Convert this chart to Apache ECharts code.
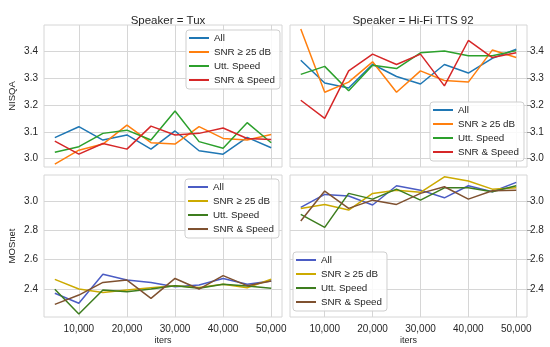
<!DOCTYPE html>
<html><head><meta charset="utf-8">
<script src="https://cdn.jsdelivr.net/npm/echarts@6/dist/echarts.min.js"></script>
<style>html,body{margin:0;padding:0;background:#fff}#c{width:550px;height:347px}</style>
</head><body><div id="c"></div>
<script>
// ---- data ----
const iters = [5000, 10000, 15000, 20000, 25000, 30000, 35000, 40000, 45000, 50000];
const variantNames = ['All', 'SNR ≥ 25 dB', 'Utt. Speed', 'SNR & Speed'];
const panelTitles = ['Speaker = Tux', 'Speaker = Hi-Fi TTS 92'];
const metricNames = ['NISQA', 'MOSnet'];
const xTicks = [10000, 20000, 30000, 40000, 50000];
const nisqaTicks = [3.0, 3.1, 3.2, 3.3, 3.4];
const mosTicks = [2.4, 2.6, 2.8, 3.0];

const tuxNisqaAll   = [3.078, 3.119, 3.069, 3.088, 3.035, 3.103, 3.029, 3.016, 3.079, 3.040];
const tuxNisqaSnr   = [2.979, 3.031, 3.054, 3.125, 3.059, 3.054, 3.119, 3.075, 3.069, 3.090];
const tuxNisqaUtt   = [3.023, 3.044, 3.094, 3.106, 3.069, 3.178, 3.063, 3.038, 3.134, 3.059];
const tuxNisqaBoth  = [3.065, 3.016, 3.056, 3.035, 3.121, 3.088, 3.094, 3.114, 3.075, 3.071];

const hifiNisqaAll  = [3.368, 3.283, 3.264, 3.353, 3.307, 3.279, 3.352, 3.320, 3.375, 3.409];
const hifiNisqaSnr  = [3.485, 3.248, 3.286, 3.362, 3.248, 3.328, 3.292, 3.286, 3.406, 3.378];
const hifiNisqaUtt  = [3.315, 3.345, 3.254, 3.349, 3.337, 3.396, 3.403, 3.385, 3.385, 3.404];
const hifiNisqaBoth = [3.218, 3.150, 3.328, 3.391, 3.352, 3.391, 3.272, 3.442, 3.378, 3.396];

const tuxMosAll     = [2.371, 2.303, 2.500, 2.461, 2.445, 2.416, 2.427, 2.472, 2.432, 2.454];
const tuxMosSnr     = [2.466, 2.400, 2.377, 2.393, 2.409, 2.423, 2.411, 2.432, 2.409, 2.466];
const tuxMosUtt     = [2.398, 2.230, 2.393, 2.382, 2.400, 2.423, 2.405, 2.432, 2.420, 2.405];
const tuxMosBoth    = [2.296, 2.359, 2.445, 2.461, 2.337, 2.472, 2.400, 2.491, 2.423, 2.454];

const hifiMosAll    = [2.955, 3.043, 3.032, 2.971, 3.102, 3.072, 3.020, 3.102, 3.061, 3.125];
const hifiMosSnr    = [2.948, 2.975, 2.937, 3.050, 3.072, 3.057, 3.163, 3.134, 3.079, 3.088];
const hifiMosUtt    = [2.907, 2.819, 3.050, 3.011, 3.079, 3.004, 3.088, 3.088, 3.061, 3.102];
const hifiMosBoth   = [2.862, 3.066, 2.948, 3.004, 2.975, 3.050, 3.095, 3.011, 3.068, 3.072];

// ---- styling ----
const FONT = '"Liberation Sans", Arial, sans-serif';
const TXT = '#262626';
const GRIDC = '#d6d6d6';
const nisqaColors = ['#1f77b4', '#ff7f0e', '#2ca02c', '#d62728'];
const mosColors = ['#4b5cc4', '#ccaa00', '#3d7d1e', '#7f5130'];

const panels = [
  {key: 'TL', grid: {left: 44, top: 25, width: 238, height: 142}, data: [tuxNisqaAll, tuxNisqaSnr, tuxNisqaUtt, tuxNisqaBoth], colors: nisqaColors, metric: 0, right: false, bottom: false, legend: {left: 186, top: 30}},
  {key: 'TR', grid: {left: 290, top: 25, width: 237, height: 142}, data: [hifiNisqaAll, hifiNisqaSnr, hifiNisqaUtt, hifiNisqaBoth], colors: nisqaColors, metric: 0, right: true, bottom: false, legend: {left: 430, top: 102}},
  {key: 'BL', grid: {left: 44, top: 175, width: 238, height: 142}, data: [tuxMosAll, tuxMosSnr, tuxMosUtt, tuxMosBoth], colors: mosColors, metric: 1, right: false, bottom: true, legend: {left: 185, top: 179}},
  {key: 'BR', grid: {left: 290, top: 175, width: 237, height: 142}, data: [hifiMosAll, hifiMosSnr, hifiMosUtt, hifiMosBoth], colors: mosColors, metric: 1, right: true, bottom: true, legend: {left: 293, top: 252}}
];
const yRanges = [[2.968, 3.500], [2.210, 3.175]];
const yTickSets = [nisqaTicks, mosTicks];

const grids = [], xAxes = [], yAxes = [], series = [], legends = [];
panels.forEach((p, i) => {
  grids.push(Object.assign({show: true, borderColor: GRIDC, borderWidth: 1, backgroundColor: '#fff'}, p.grid));
  xAxes.push({
    type: 'value', gridIndex: i, min: 2750, max: 52250,
    axisLine: {show: false},
    axisTick: {show: false, customValues: xTicks},
    splitLine: {show: true, lineStyle: {color: GRIDC, width: 1}},
    axisLabel: {show: p.bottom, customValues: xTicks, color: TXT, fontFamily: FONT, fontSize: 10, margin: 7,
      formatter: v => Number(v).toLocaleString('en-US')},
    name: p.bottom ? 'iters' : '', nameLocation: 'middle', nameGap: 19,
    nameTextStyle: {color: TXT, fontFamily: FONT, fontSize: 9}
  });
  const yt = yTickSets[p.metric];
  yAxes.push({
    type: 'value', gridIndex: i, min: yRanges[p.metric][0], max: yRanges[p.metric][1],
    position: p.right ? 'right' : 'left',
    axisLine: {show: false},
    axisTick: {show: p.right, customValues: yt, length: 4, lineStyle: {color: '#999'}},
    splitLine: {show: true, lineStyle: {color: GRIDC, width: 1}},
    axisLabel: {show: true, customValues: yt, color: TXT, fontFamily: FONT, fontSize: 10, margin: p.right ? 3 : 6,
      formatter: v => Number(v).toFixed(1)},
    name: p.right ? '' : metricNames[p.metric], nameLocation: 'middle', nameGap: 27,
    nameTextStyle: {color: TXT, fontFamily: FONT, fontSize: 9.5}
  });
  const names = [];
  variantNames.forEach((vn, k) => {
    const nm = vn + '|' + p.key;
    names.push(nm);
    series.push({
      name: nm, type: 'line', xAxisIndex: i, yAxisIndex: i,
      data: iters.map((x, j) => [x, p.data[k][j]]),
      showSymbol: false, symbol: 'none', silent: true, animation: false,
      lineStyle: {color: p.colors[k], width: 1.5}, itemStyle: {color: p.colors[k]},
      z: 3 + k
    });
  });
  legends.push({
    data: names, orient: 'vertical', left: p.legend.left, top: p.legend.top,
    icon: 'rect', itemWidth: 20, itemHeight: 2, itemGap: 2, itemTextGap: 6,
    padding: [2, 5, 3, 3],
    backgroundColor: 'rgba(255,255,255,0.85)', borderColor: '#cfcfcf', borderWidth: 1, borderRadius: 3,
    textStyle: {color: TXT, fontFamily: FONT, fontSize: 9.8, lineHeight: 12},
    formatter: n => n.split('|')[0],
    selectedMode: false
  });
});

const chart = echarts.init(document.getElementById('c'), null, {renderer: 'canvas'});
chart.setOption({
  animation: false,
  backgroundColor: '#fff',
  title: [
    {text: panelTitles[0], left: 163, top: 10, textAlign: 'center', textStyle: {color: TXT, fontFamily: FONT, fontSize: 11.5, fontWeight: 'normal'}},
    {text: panelTitles[1], left: 408, top: 10, textAlign: 'center', textStyle: {color: TXT, fontFamily: FONT, fontSize: 11.5, fontWeight: 'normal'}}
  ],
  grid: grids, xAxis: xAxes, yAxis: yAxes, series: series, legend: legends
});
</script></body></html>
